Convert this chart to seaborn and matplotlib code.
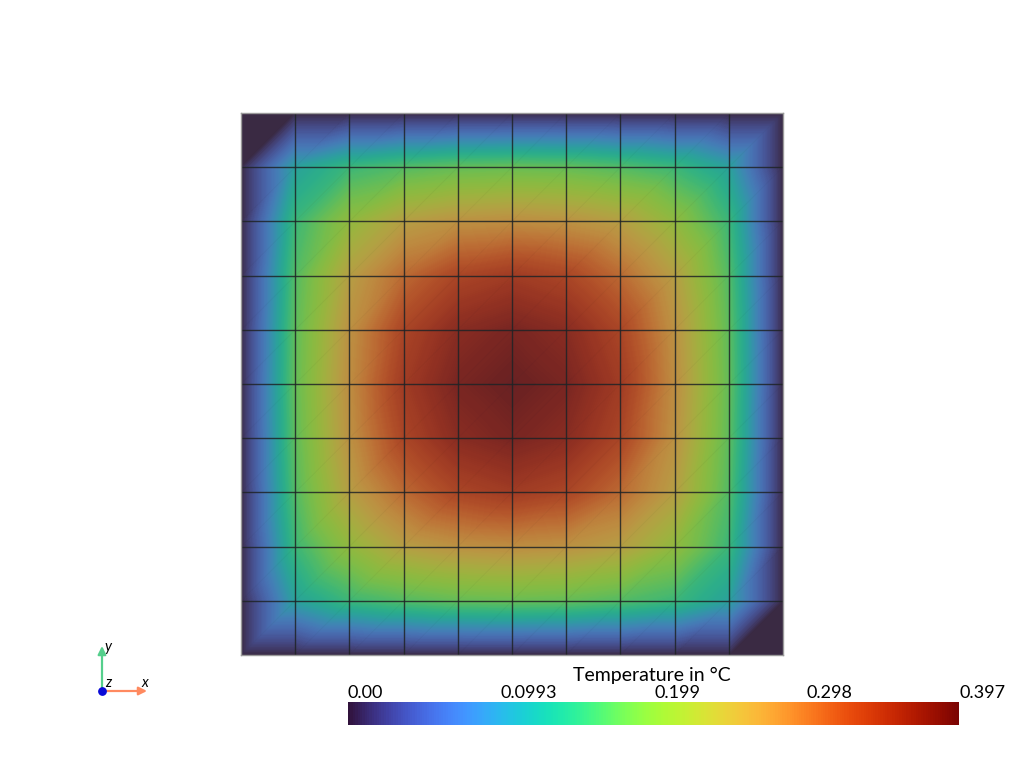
import numpy as np
import pandas as pd
import matplotlib.pyplot as plt
import matplotlib.tri as mtri
from matplotlib.colors import ListedColormap
import seaborn as sns

# nodal temperature, top row first
row_0 = [0, 0, 0, 0, 0, 0, 0, 0, 0, 0, 0]
row_1 = [0, .115, .150, .165, .175, .178, .175, .165, .150, .115, 0]
row_2 = [0, .150, .210, .250, .265, .270, .265, .250, .210, .150, 0]
row_3 = [0, .165, .250, .300, .335, .348, .335, .300, .250, .165, 0]
row_4 = [0, .172, .265, .335, .372, .385, .372, .335, .265, .172, 0]
row_5 = [0, .175, .270, .348, .385, .397, .385, .348, .270, .175, 0]
row_6 = row_4
row_7 = row_3
row_8 = row_2
row_9 = row_1
row_10 = row_0
temperature = np.array([row_0, row_1, row_2, row_3, row_4, row_5,
                        row_6, row_7, row_8, row_9, row_10], dtype=float)

tick_values = [0.0, 0.0993, 0.199, 0.298, 0.397]
tick_labels = ["0.00", "0.0993", "0.199", "0.298", "0.397"]
bar_title = "Temperature in °C"

W, H = 1024, 768
sns.set_theme(style="white")
plt.rcParams["font.family"] = ["Lato", "DejaVu Sans"]


def box(x0, y0, x1, y1):
    # pixel box (y from top) -> figure rect
    return [x0 / W, 1 - y1 / H, (x1 - x0) / W, (y1 - y0) / H]


fig = plt.figure(figsize=(W / 100, H / 100), dpi=100)
ax = fig.add_axes(box(241, 113, 783, 655))
cax = fig.add_axes(box(348, 702, 959, 725))

# heatmap sets up the scales and the colour bar
sns.heatmap(pd.DataFrame(temperature), ax=ax, cbar_ax=cax, cmap="turbo",
            vmin=0, vmax=0.397, cbar_kws={"orientation": "horizontal"},
            xticklabels=False, yticklabels=False)
ax.collections[0].set_visible(False)

# surface colours are the turbo map, greyed by the lighting
base = np.array(sns.color_palette("turbo", 256))
dimmed = ListedColormap(np.clip(base * np.array([0.64, 0.62, 0.58]) + np.array([0.105, 0.12, 0.13]), 0, 1))

# linear interpolation on triangles, "/" diagonals like the mesh
n = temperature.shape[0]
xx, yy = np.meshgrid(np.arange(n) + 0.5, np.arange(n) + 0.5)
triangles = []
for j in range(n - 1):
    for i in range(n - 1):
        a, b = j * n + i, j * n + i + 1
        c, d = (j + 1) * n + i, (j + 1) * n + i + 1
        triangles += [[a, b, c], [b, d, c]]
tri = mtri.Triangulation(xx.ravel(), yy.ravel(), triangles)
ax.tricontourf(tri, temperature.ravel(), levels=np.linspace(0, 0.397, 300),
               cmap=dimmed, vmin=0, vmax=0.397)

# mesh edges
ax.plot(np.array([xx[1:, :-1].ravel(), xx[:-1, 1:].ravel()]),
        np.array([yy[1:, :-1].ravel(), yy[:-1, 1:].ravel()]),
        color="#222222", lw=0.5, alpha=0.05)
ax.vlines(np.arange(1, n - 1) + 0.5, 0.5, n - 0.5, color="#1f2326", lw=1.0, alpha=0.85)
ax.hlines(np.arange(1, n - 1) + 0.5, 0.5, n - 0.5, color="#1f2326", lw=1.0, alpha=0.85)
ax.set_xlim(0.5, n - 0.5)
ax.set_ylim(n - 0.5, 0.5)
for s in ax.spines.values():
    s.set_visible(True)
    s.set_color("#9a9a9a")
    s.set_linewidth(1.0)

# colour bar
cbar = ax.collections[0].colorbar
cbar.outline.set_visible(False)
cax.xaxis.set_ticks_position("top")
cbar.set_ticks(tick_values, labels=tick_labels)
cax.tick_params(axis="x", length=0, pad=1, labelsize=13, colors="black")
for lab in cax.get_xticklabels():
    lab.set_ha("left")
fig.text(652 / W, 1 - 675 / H, bar_title, ha="center", va="center", fontsize=14, color="black")

# orientation triad
over = fig.add_axes([0, 0, 1, 1], facecolor="none")
over.set_xlim(0, W)
over.set_ylim(H, 0)
over.axis("off")
over.annotate("", xy=(147, 691), xytext=(102, 691),
              arrowprops=dict(arrowstyle="-|>", color="#ff8a60", lw=1.6, shrinkA=0, shrinkB=0))
over.annotate("", xy=(102, 646), xytext=(102, 691),
              arrowprops=dict(arrowstyle="-|>", color="#55cf8c", lw=1.6, shrinkA=0, shrinkB=0))
over.scatter([102], [691], s=28, color="#0a0ad8", zorder=5)
over.text(145, 683, "x", style="italic", fontsize=10.5, ha="center", va="center", color="black")
over.text(108, 647, "y", style="italic", fontsize=10.5, ha="center", va="center", color="black")
over.text(108, 683, "z", style="italic", fontsize=10.5, ha="center", va="center", color="black")

fig.savefig("out.png", dpi=100)
